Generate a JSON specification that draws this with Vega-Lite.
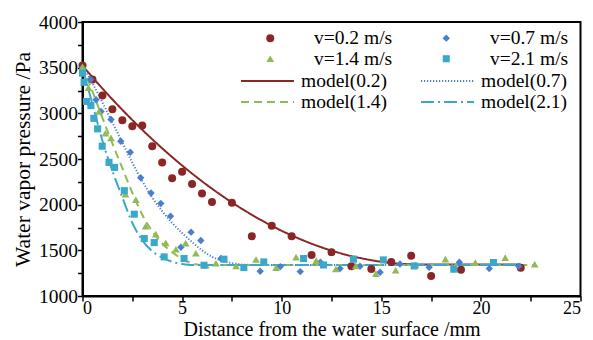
{
  "$schema": "https://vega.github.io/schema/vega-lite/v6.json",
  "width": 498,
  "height": 274,
  "autosize": {"type": "none"},
  "padding": {"left": 82.5, "top": 22, "right": 12.5, "bottom": 44},
  "background": "white",
  "config": {
    "view": {"stroke": "black", "strokeWidth": 2},
    "font": "Liberation Serif",
    "axis": {
      "grid": false,
      "domainColor": "black",
      "domainWidth": 2,
      "tickColor": "black",
      "tickWidth": 1.5,
      "tickSize": 5,
      "labelFont": "Liberation Serif",
      "labelFontSize": 19.5,
      "labelColor": "black",
      "titleFont": "Liberation Serif",
      "titleFontSize": 21.5,
      "titleFontWeight": "normal",
      "titleColor": "black"
    },
    "legend": {
      "labelFont": "Liberation Serif",
      "labelFontSize": 19.5,
      "labelColor": "black",
      "padding": 0
    }
  },
  "datasets": {
    "pts": [
      {"series": "v=0.2 m/s", "x": 0, "y": 3525}, {"series": "v=0.2 m/s", "x": 0.5, "y": 3370}, {"series": "v=0.2 m/s", "x": 1.0, "y": 3195}, {"series": "v=0.2 m/s", "x": 1.5, "y": 3045}, {"series": "v=0.2 m/s", "x": 2.0, "y": 2925}, {"series": "v=0.2 m/s", "x": 2.5, "y": 2858}, {"series": "v=0.2 m/s", "x": 3.0, "y": 2866}, {"series": "v=0.2 m/s", "x": 3.5, "y": 2639}, {"series": "v=0.2 m/s", "x": 4.0, "y": 2463}, {"series": "v=0.2 m/s", "x": 4.5, "y": 2288}, {"series": "v=0.2 m/s", "x": 5.0, "y": 2361}, {"series": "v=0.2 m/s", "x": 5.5, "y": 2226}, {"series": "v=0.2 m/s", "x": 6.0, "y": 2123}, {"series": "v=0.2 m/s", "x": 6.5, "y": 2028}, {"series": "v=0.2 m/s", "x": 7.5, "y": 2021}, {"series": "v=0.2 m/s", "x": 8.5, "y": 1655}, {"series": "v=0.2 m/s", "x": 9.5, "y": 1768}, {"series": "v=0.2 m/s", "x": 10.5, "y": 1655}, {"series": "v=0.2 m/s", "x": 11.5, "y": 1450}, {"series": "v=0.2 m/s", "x": 12.5, "y": 1479}, {"series": "v=0.2 m/s", "x": 13.5, "y": 1325}, {"series": "v=0.2 m/s", "x": 14.5, "y": 1295}, {"series": "v=0.2 m/s", "x": 15.5, "y": 1373}, {"series": "v=0.2 m/s", "x": 16.5, "y": 1440}, {"series": "v=0.2 m/s", "x": 17.5, "y": 1218}, {"series": "v=0.2 m/s", "x": 19.0, "y": 1288}, {"series": "v=0.2 m/s", "x": 22.0, "y": 1308},
      {"series": "v=0.7 m/s", "x": 0, "y": 3500}, {"series": "v=0.7 m/s", "x": 0.41, "y": 3371}, {"series": "v=0.7 m/s", "x": 0.68, "y": 3149}, {"series": "v=0.7 m/s", "x": 0.93, "y": 3020}, {"series": "v=0.7 m/s", "x": 1.43, "y": 2933}, {"series": "v=0.7 m/s", "x": 1.92, "y": 2695}, {"series": "v=0.7 m/s", "x": 2.4, "y": 2574}, {"series": "v=0.7 m/s", "x": 2.92, "y": 2295}, {"series": "v=0.7 m/s", "x": 3.44, "y": 2127}, {"series": "v=0.7 m/s", "x": 3.93, "y": 2013}, {"series": "v=0.7 m/s", "x": 4.42, "y": 1874}, {"series": "v=0.7 m/s", "x": 4.94, "y": 1534}, {"series": "v=0.7 m/s", "x": 5.45, "y": 1699}, {"series": "v=0.7 m/s", "x": 5.94, "y": 1607}, {"series": "v=0.7 m/s", "x": 6.95, "y": 1410}, {"series": "v=0.7 m/s", "x": 8.92, "y": 1271}, {"series": "v=0.7 m/s", "x": 9.93, "y": 1322}, {"series": "v=0.7 m/s", "x": 10.93, "y": 1267}, {"series": "v=0.7 m/s", "x": 11.94, "y": 1370}, {"series": "v=0.7 m/s", "x": 12.93, "y": 1300}, {"series": "v=0.7 m/s", "x": 13.93, "y": 1325}, {"series": "v=0.7 m/s", "x": 14.94, "y": 1260}, {"series": "v=0.7 m/s", "x": 15.94, "y": 1350}, {"series": "v=0.7 m/s", "x": 17.4, "y": 1315}, {"series": "v=0.7 m/s", "x": 18.92, "y": 1370}, {"series": "v=0.7 m/s", "x": 20.42, "y": 1300}, {"series": "v=0.7 m/s", "x": 21.9, "y": 1325},
      {"series": "v=1.4 m/s", "x": 0, "y": 3510}, {"series": "v=1.4 m/s", "x": 0.3, "y": 3280}, {"series": "v=1.4 m/s", "x": 0.82, "y": 3020}, {"series": "v=1.4 m/s", "x": 1.15, "y": 2782}, {"series": "v=1.4 m/s", "x": 1.43, "y": 2732}, {"series": "v=1.4 m/s", "x": 2.16, "y": 2116}, {"series": "v=1.4 m/s", "x": 2.68, "y": 2054}, {"series": "v=1.4 m/s", "x": 3.17, "y": 1765}, {"series": "v=1.4 m/s", "x": 3.68, "y": 1677}, {"series": "v=1.4 m/s", "x": 4.18, "y": 1582}, {"series": "v=1.4 m/s", "x": 4.69, "y": 1512}, {"series": "v=1.4 m/s", "x": 5.18, "y": 1578}, {"series": "v=1.4 m/s", "x": 5.69, "y": 1468}, {"series": "v=1.4 m/s", "x": 6.19, "y": 1337}, {"series": "v=1.4 m/s", "x": 6.7, "y": 1359}, {"series": "v=1.4 m/s", "x": 7.71, "y": 1329}, {"series": "v=1.4 m/s", "x": 8.71, "y": 1400}, {"series": "v=1.4 m/s", "x": 9.72, "y": 1311}, {"series": "v=1.4 m/s", "x": 10.72, "y": 1425}, {"series": "v=1.4 m/s", "x": 11.73, "y": 1388}, {"series": "v=1.4 m/s", "x": 12.72, "y": 1296}, {"series": "v=1.4 m/s", "x": 13.72, "y": 1329}, {"series": "v=1.4 m/s", "x": 14.73, "y": 1245}, {"series": "v=1.4 m/s", "x": 15.72, "y": 1282}, {"series": "v=1.4 m/s", "x": 16.72, "y": 1340}, {"series": "v=1.4 m/s", "x": 18.22, "y": 1403}, {"series": "v=1.4 m/s", "x": 19.72, "y": 1366}, {"series": "v=1.4 m/s", "x": 21.22, "y": 1421}, {"series": "v=1.4 m/s", "x": 22.7, "y": 1348},
      {"series": "v=2.1 m/s", "x": 0, "y": 3440}, {"series": "v=2.1 m/s", "x": 0.08, "y": 3340}, {"series": "v=2.1 m/s", "x": 0.2, "y": 3130}, {"series": "v=2.1 m/s", "x": 0.42, "y": 3085}, {"series": "v=2.1 m/s", "x": 0.57, "y": 2945}, {"series": "v=2.1 m/s", "x": 0.76, "y": 2830}, {"series": "v=2.1 m/s", "x": 0.99, "y": 2640}, {"series": "v=2.1 m/s", "x": 1.33, "y": 2463}, {"series": "v=2.1 m/s", "x": 1.61, "y": 2408}, {"series": "v=2.1 m/s", "x": 2.1, "y": 2153}, {"series": "v=2.1 m/s", "x": 2.6, "y": 1896}, {"series": "v=2.1 m/s", "x": 3.1, "y": 1629}, {"series": "v=2.1 m/s", "x": 3.6, "y": 1585}, {"series": "v=2.1 m/s", "x": 4.1, "y": 1428}, {"series": "v=2.1 m/s", "x": 5.1, "y": 1410}, {"series": "v=2.1 m/s", "x": 6.1, "y": 1337}, {"series": "v=2.1 m/s", "x": 7.1, "y": 1403}, {"series": "v=2.1 m/s", "x": 8.1, "y": 1311}, {"series": "v=2.1 m/s", "x": 9.1, "y": 1373}, {"series": "v=2.1 m/s", "x": 11.1, "y": 1410}, {"series": "v=2.1 m/s", "x": 12.1, "y": 1340}, {"series": "v=2.1 m/s", "x": 13.6, "y": 1403}, {"series": "v=2.1 m/s", "x": 15.1, "y": 1395}, {"series": "v=2.1 m/s", "x": 16.65, "y": 1329}, {"series": "v=2.1 m/s", "x": 18.64, "y": 1293}, {"series": "v=2.1 m/s", "x": 20.63, "y": 1366}
    ],
    "mdl": [
      {"series": "model(0.2)", "x": 0, "y": 3520}, {"series": "model(0.2)", "x": 1, "y": 3272}, {"series": "model(0.2)", "x": 2, "y": 3038}, {"series": "model(0.2)", "x": 3, "y": 2820}, {"series": "model(0.2)", "x": 4, "y": 2617}, {"series": "model(0.2)", "x": 5, "y": 2429}, {"series": "model(0.2)", "x": 6, "y": 2256}, {"series": "model(0.2)", "x": 7, "y": 2098}, {"series": "model(0.2)", "x": 8, "y": 1955}, {"series": "model(0.2)", "x": 9, "y": 1827}, {"series": "model(0.2)", "x": 10, "y": 1714}, {"series": "model(0.2)", "x": 11, "y": 1616}, {"series": "model(0.2)", "x": 12, "y": 1533}, {"series": "model(0.2)", "x": 13, "y": 1465}, {"series": "model(0.2)", "x": 14, "y": 1413}, {"series": "model(0.2)", "x": 15, "y": 1375}, {"series": "model(0.2)", "x": 16, "y": 1352}, {"series": "model(0.2)", "x": 17, "y": 1345}, {"series": "model(0.2)", "x": 22, "y": 1345},
      {"series": "model(0.7)", "x": 0, "y": 3520}, {"series": "model(0.7)", "x": 0.5, "y": 3330}, {"series": "model(0.7)", "x": 1, "y": 3120}, {"series": "model(0.7)", "x": 1.5, "y": 2900}, {"series": "model(0.7)", "x": 2, "y": 2680}, {"series": "model(0.7)", "x": 2.5, "y": 2460}, {"series": "model(0.7)", "x": 3, "y": 2260}, {"series": "model(0.7)", "x": 3.5, "y": 2080}, {"series": "model(0.7)", "x": 4, "y": 1930}, {"series": "model(0.7)", "x": 4.5, "y": 1800}, {"series": "model(0.7)", "x": 5, "y": 1690}, {"series": "model(0.7)", "x": 5.5, "y": 1590}, {"series": "model(0.7)", "x": 6, "y": 1500}, {"series": "model(0.7)", "x": 6.5, "y": 1430}, {"series": "model(0.7)", "x": 7, "y": 1385}, {"series": "model(0.7)", "x": 7.5, "y": 1360}, {"series": "model(0.7)", "x": 8, "y": 1345}, {"series": "model(0.7)", "x": 8.5, "y": 1340}, {"series": "model(0.7)", "x": 22, "y": 1340},
      {"series": "model(1.4)", "x": 0, "y": 3520}, {"series": "model(1.4)", "x": 0.5, "y": 3240}, {"series": "model(1.4)", "x": 1, "y": 2950}, {"series": "model(1.4)", "x": 1.5, "y": 2670}, {"series": "model(1.4)", "x": 2, "y": 2400}, {"series": "model(1.4)", "x": 2.5, "y": 2130}, {"series": "model(1.4)", "x": 3, "y": 1890}, {"series": "model(1.4)", "x": 3.5, "y": 1710}, {"series": "model(1.4)", "x": 4, "y": 1575}, {"series": "model(1.4)", "x": 4.5, "y": 1480}, {"series": "model(1.4)", "x": 5, "y": 1405}, {"series": "model(1.4)", "x": 5.5, "y": 1358}, {"series": "model(1.4)", "x": 6, "y": 1340}, {"series": "model(1.4)", "x": 22.7, "y": 1340},
      {"series": "model(2.1)", "x": 0, "y": 3500}, {"series": "model(2.1)", "x": 0.5, "y": 3100}, {"series": "model(2.1)", "x": 1, "y": 2700}, {"series": "model(2.1)", "x": 1.5, "y": 2370}, {"series": "model(2.1)", "x": 2, "y": 2080}, {"series": "model(2.1)", "x": 2.5, "y": 1800}, {"series": "model(2.1)", "x": 3, "y": 1610}, {"series": "model(2.1)", "x": 3.5, "y": 1490}, {"series": "model(2.1)", "x": 4, "y": 1420}, {"series": "model(2.1)", "x": 4.5, "y": 1375}, {"series": "model(2.1)", "x": 5, "y": 1350}, {"series": "model(2.1)", "x": 5.5, "y": 1340}, {"series": "model(2.1)", "x": 22, "y": 1340}
    ]
  },
  "encoding": {
    "x": {
      "field": "x", "type": "quantitative",
      "scale": {"domain": [0, 25], "nice": false, "zero": false},
      "axis": {
        "title": "Distance from the water surface /mm",
        "values": [0, 2.5, 5, 7.5, 10, 12.5, 15, 17.5, 20, 22.5, 25],
        "labelExpr": "datum.value % 5 === 0 ? datum.label : ''",
        "labelFontSize": 18,
        "labelPadding": -2,
        "titleFontSize": 20,
        "titleBaseline": "alphabetic",
        "titleY": 39.5,
        "encode": {"ticks": {"update": {"y2": {"value": -5}}}}
      }
    },
    "y": {
      "field": "y", "type": "quantitative",
      "scale": {"domain": [1000, 4000], "nice": false, "zero": false},
      "axis": {
        "title": "Water vapor pressure /Pa",
        "values": [1000, 1250, 1500, 1750, 2000, 2250, 2500, 2750, 3000, 3250, 3500, 3750, 4000],
        "format": "d",
        "labelExpr": "datum.value % 500 === 0 ? datum.label : ''",
        "labelPadding": 0,
        "titlePadding": 4,
        "encode": {"ticks": {"update": {"x2": {"value": 5}}}}
      }
    }
  },
  "layer": [
    {
      "data": {"name": "mdl"},
      "transform": [{"filter": {"field": "series", "oneOf": ["model(0.2)", "model(0.7)"]}}],
      "mark": {"type": "line", "strokeWidth": 2, "interpolate": "monotone"},
      "encoding": {
        "color": {
          "field": "series", "type": "nominal",
          "scale": {"domain": ["model(0.2)", "model(0.7)"], "range": ["#8a2626", "#4a7fcc"]},
          "legend": {
            "title": null, "orient": "none", "legendX": 157.5, "legendY": 31.5,
            "columns": 2, "columnPadding": 29, "symbolSize": 2809, "symbolStrokeWidth": 1.8,
            "symbolType": "stroke", "labelOffset": 6
          }
        },
        "strokeDash": {
          "field": "series", "type": "nominal",
          "scale": {"domain": ["model(0.2)", "model(0.7)"], "range": [[1, 0], [1.2, 1.8]]},
          "legend": {
            "title": null, "orient": "none", "legendX": 157.5, "legendY": 31.5,
            "columns": 2, "columnPadding": 29, "symbolSize": 2809, "symbolStrokeWidth": 1.8,
            "symbolType": "stroke", "labelOffset": 6
          }
        }
      }
    },
    {
      "data": {"name": "mdl"},
      "transform": [{"filter": {"field": "series", "oneOf": ["model(1.4)", "model(2.1)"]}}],
      "mark": {"type": "line", "strokeWidth": 2, "interpolate": "monotone"},
      "encoding": {
        "color": {
          "field": "series", "type": "nominal",
          "scale": {"domain": ["model(1.4)", "model(2.1)"], "range": ["#8fba55", "#3aa8c8"]},
          "legend": {
            "title": null, "orient": "none", "legendX": 157.5, "legendY": 52.5,
            "columns": 2, "columnPadding": 29, "symbolSize": 2809, "symbolStrokeWidth": 1.8,
            "symbolType": "stroke", "labelOffset": 6
          }
        },
        "strokeDash": {
          "field": "series", "type": "nominal",
          "scale": {"domain": ["model(1.4)", "model(2.1)"], "range": [[8, 5], [13, 4, 2, 4]]},
          "legend": {
            "title": null, "orient": "none", "legendX": 157.5, "legendY": 52.5,
            "columns": 2, "columnPadding": 29, "symbolSize": 2809, "symbolStrokeWidth": 1.8,
            "symbolType": "stroke", "labelOffset": 6
          }
        }
      }
    },
    {
      "data": {"name": "pts"},
      "mark": {"type": "point", "filled": true, "opacity": 1},
      "encoding": {
        "color": {
          "field": "series", "type": "nominal",
          "scale": {
            "domain": ["v=0.2 m/s", "v=1.4 m/s", "v=0.7 m/s", "v=2.1 m/s"],
            "range": ["#8a2626", "#8fba55", "#4a7fcc", "#3aa8c8"]
          },
          "legend": {
            "title": null, "orient": "none", "legendX": 178, "legendY": 6,
            "columns": 2, "columnPadding": 44, "rowPadding": 0, "symbolSize": 30,
            "symbolOpacity": 1, "labelOffset": 34
          }
        },
        "shape": {
          "field": "series", "type": "nominal",
          "scale": {
            "domain": ["v=0.2 m/s", "v=1.4 m/s", "v=0.7 m/s", "v=2.1 m/s"],
            "range": ["circle", "triangle-up", "diamond", "square"]
          },
          "legend": {
            "title": null, "orient": "none", "legendX": 178, "legendY": 6,
            "columns": 2, "columnPadding": 44, "rowPadding": 0, "symbolSize": 30,
            "symbolOpacity": 1, "labelOffset": 34
          }
        },
        "size": {
          "field": "series", "type": "nominal",
          "scale": {
            "domain": ["v=0.2 m/s", "v=1.4 m/s", "v=0.7 m/s", "v=2.1 m/s"],
            "range": [64, 50, 40, 48]
          },
          "legend": null
        }
      }
    }
  ],
  "resolve": {
    "scale": {"color": "independent", "shape": "independent", "strokeDash": "independent", "size": "independent"},
    "legend": {"color": "independent", "shape": "independent", "strokeDash": "independent"}
  }
}
